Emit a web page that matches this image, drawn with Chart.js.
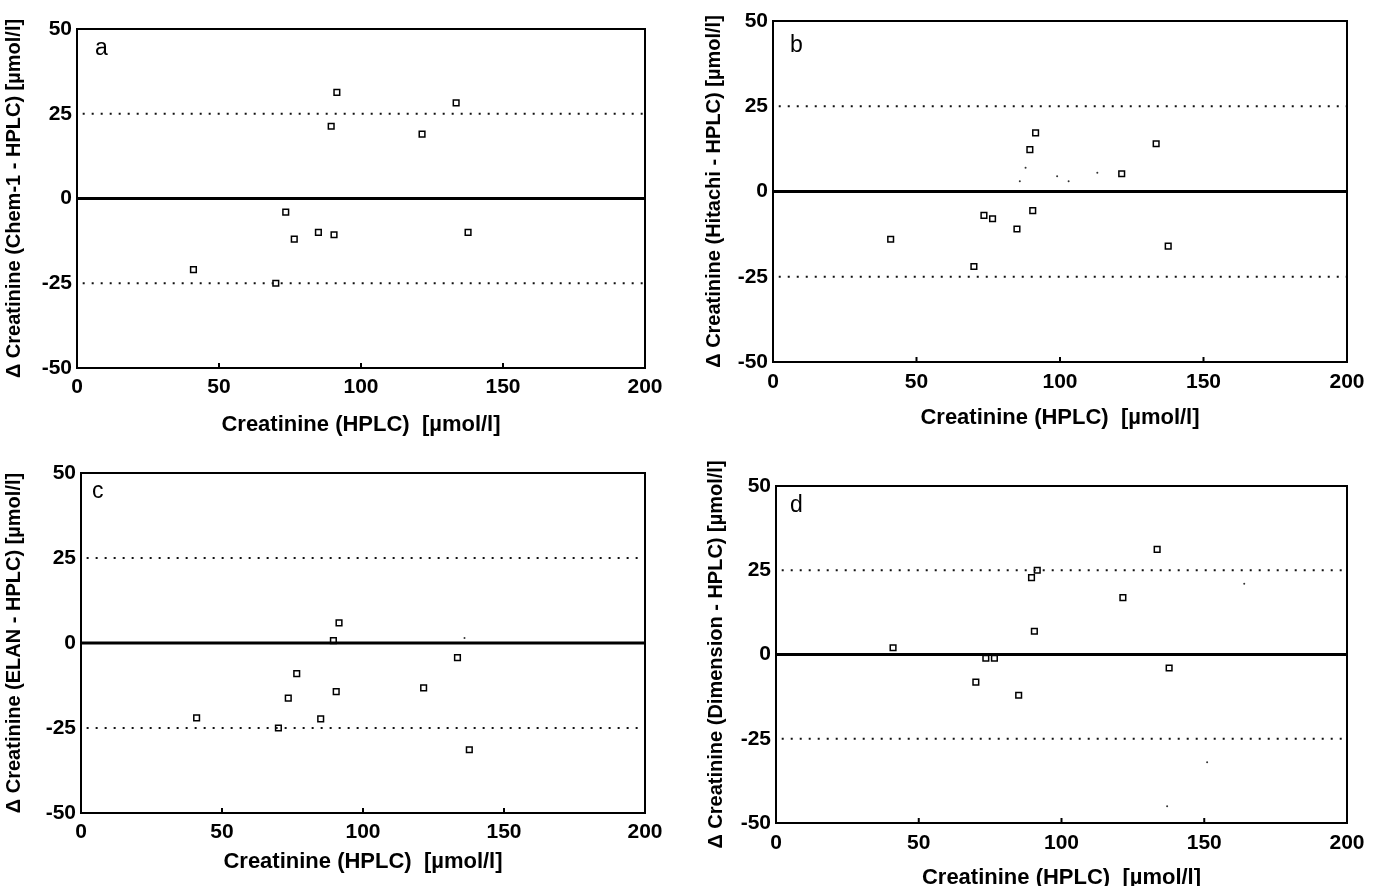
<!DOCTYPE html>
<html>
<head>
<meta charset="utf-8">
<script src="https://cdn.jsdelivr.net/npm/chart.js@4/dist/chart.umd.min.js"></script>
<style>
  html, body { margin: 0; padding: 0; background: #fff; }
  #wrap { position: relative; width: 1380px; height: 886px; overflow: hidden; }
  canvas { position: absolute; }
</style>
</head>
<body>
<div id="wrap">
  <canvas id="chartA" width="690" height="443" style="left:0;top:0"></canvas>
  <canvas id="chartB" width="690" height="443" style="left:690px;top:0"></canvas>
  <canvas id="chartC" width="690" height="443" style="left:0;top:443px"></canvas>
  <canvas id="chartD" width="690" height="448" style="left:690px;top:443px"></canvas>
</div>
<script>
// same 11 samples measured by HPLC, difference of each analyser vs HPLC
const hplc = [41, 70, 73.5, 76.5, 85, 89.5, 90.5, 91.5, 121.5, 133.5, 137.7];
const deltaChem1 = [-21, -25, -4, -12, -10, 21.3, -10.7, 31.3, 19, 28.2, -10];
const deltaHitachi = [-14, -22, -7, -8, -11, 12.3, -5.6, 17.2, 5.2, 14, -16];
const deltaElan = [-22, -25, -16.2, -9, -22.3, 0.7, -14.3, 5.9, -13.2, -4.3, -31.4];
const deltaDimension = [2, -8.2, -1.1, -1.1, -12.1, 22.8, 6.9, 25, 16.9, 31.2, -4];

// stray specks on the scan
const specksHitachiX = [86, 88, 99, 103, 113];
const specksHitachiY = [3, 7, 4.5, 3, 5.5];
const specksElanX = [136];
const specksElanY = [1.5];
const specksDimensionX = [164, 151, 137];
const specksDimensionY = [21, -32, -45];

const xTicks = [0, 50, 100, 150, 200];
const yTicks = [-50, -25, 0, 25, 50];
const limitLines = [-25, 25];

const xTitle = 'Creatinine (HPLC)  [\u00b5mol/l]';
const FONT = '"Liberation Sans", Arial, Helvetica, sans-serif';

const framePlugin = {
  id: 'frame',
  afterDraw(chart, args, opts) {
    const { ctx, chartArea: a } = chart;
    const xs = chart.scales.x;
    ctx.save();
    ctx.strokeStyle = '#000';
    ctx.lineWidth = 2;
    ctx.strokeRect(a.left, a.top, a.right - a.left, a.bottom - a.top);
    // small inside tick marks on the bottom axis
    xTicks.slice(1, -1).forEach(v => {
      const px = xs.getPixelForValue(v);
      ctx.beginPath();
      ctx.moveTo(px, a.bottom);
      ctx.lineTo(px, a.bottom - 5);
      ctx.stroke();
    });
    ctx.fillStyle = '#000';
    ctx.font = '23px ' + FONT;
    ctx.fillText(opts.letter, a.left + opts.lx, a.top + opts.ly);
    ctx.restore();
  }
};

function pts(xs, ys) {
  return xs.map((x, i) => ({ x, y: ys[i] }));
}

function makePanel(id, p) {
  const first = xTicks[0], last = xTicks[xTicks.length - 1];
  const datasets = [
    {
      type: 'line', data: [{ x: first, y: 0 }, { x: last, y: 0 }],
      borderColor: '#000', borderWidth: 3, pointRadius: 0
    },
    ...limitLines.map(v => ({
      type: 'line', data: [{ x: first + 2, y: v }, { x: last, y: v }],
      borderColor: '#111', borderWidth: 2, borderDash: [2, 7], pointRadius: 0
    })),
    {
      data: pts(hplc, p.delta),
      pointStyle: 'rect', pointRadius: 4, borderWidth: 1.5,
      borderColor: '#000', backgroundColor: '#fff'
    }
  ];
  if (p.speckX) {
    datasets.push({
      data: pts(p.speckX, p.speckY),
      pointStyle: 'circle', pointRadius: 1, borderWidth: 0,
      backgroundColor: '#333'
    });
  }

  new Chart(document.getElementById(id), {
    type: 'scatter',
    data: { datasets },
    plugins: [framePlugin],
    options: {
      responsive: false,
      animation: false,
      devicePixelRatio: 1,
      layout: { autoPadding: false, padding: { left: 0, top: p.top, right: p.right, bottom: 0 } },
      plugins: {
        legend: { display: false },
        tooltip: { enabled: false },
        frame: { letter: p.letter, lx: p.lx, ly: p.ly }
      },
      scales: {
        x: {
          type: 'linear', min: first, max: last,
          afterBuildTicks: s => { s.ticks = xTicks.map(v => ({ value: v })); },
          afterFit: s => { s.height = p.xh; },
          grid: { display: false, drawTicks: false },
          border: { display: false },
          ticks: { color: '#000', padding: p.xpad, maxRotation: 0, font: { family: FONT, size: 21, weight: 'bold' } },
          title: {
            display: true, text: xTitle, color: '#000',
            font: { family: FONT, size: 22, weight: 'bold' },
            padding: { top: 0, bottom: p.xtpad }
          }
        },
        y: {
          type: 'linear', min: yTicks[0], max: yTicks[yTicks.length - 1],
          afterBuildTicks: s => { s.ticks = yTicks.map(v => ({ value: v })); },
          afterFit: s => { s.width = p.yw; },
          grid: { display: false, drawTicks: false },
          border: { display: false },
          ticks: { color: '#000', padding: 5, font: { family: FONT, size: 21, weight: 'bold' } },
          title: {
            display: true, text: p.yTitle, color: '#000',
            font: { family: FONT, size: 20, weight: 'bold' },
            padding: { top: p.ytpad, bottom: 0 }
          }
        }
      }
    }
  });
}

makePanel('chartA', {
  delta: deltaChem1, letter: 'a', lx: 18, ly: 26,
  yTitle: '\u0394 Creatinine (Chem-1 - HPLC) [\u00b5mol/l]',
  top: 29, right: 45, yw: 77, xh: 75, xpad: 7, xtpad: 5, ytpad: 2
});
makePanel('chartB', {
  delta: deltaHitachi, speckX: specksHitachiX, speckY: specksHitachiY,
  letter: 'b', lx: 17, ly: 31,
  yTitle: '\u0394 Creatinine (Hitachi - HPLC) [\u00b5mol/l]',
  top: 21, right: 33, yw: 83, xh: 81, xpad: 8, xtpad: 12, ytpad: 12
});
makePanel('chartC', {
  delta: deltaElan, speckX: specksElanX, speckY: specksElanY,
  letter: 'c', lx: 11, ly: 25,
  yTitle: '\u0394 Creatinine (ELAN - HPLC) [\u00b5mol/l]',
  top: 30, right: 45, yw: 81, xh: 73, xpad: 7, xtpad: 11, ytpad: 2
});
makePanel('chartD', {
  delta: deltaDimension, speckX: specksDimensionX, speckY: specksDimensionY,
  letter: 'd', lx: 14, ly: 26,
  yTitle: '\u0394 Creatinine (Dimension - HPLC) [\u00b5mol/l]',
  top: 43, right: 33, yw: 86, xh: 68, xpad: 8, xtpad: 0, ytpad: 14
});
</script>
</body>
</html>
